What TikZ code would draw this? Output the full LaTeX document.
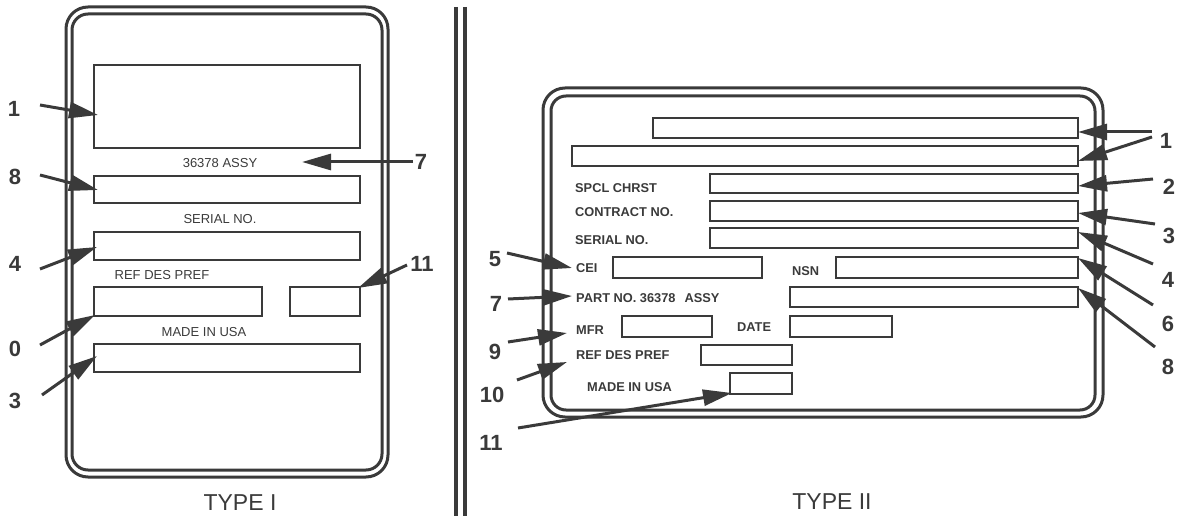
\documentclass[tikz,border=0pt]{standalone}
\usepackage{fontspec}
\setmainfont{Liberation Sans}
\usetikzlibrary{arrows.meta}
\definecolor{ink}{RGB}{58,58,58}
\tikzset{
  plate/.style={draw=ink, line width=3pt},
  field/.style={draw=ink, line width=2.5pt, inner sep=0pt, outer sep=0pt, anchor=north west},
  num/.style={font=\bfseries\fontsize{22}{22}\selectfont, text=ink, inner sep=0pt},
  smalltxt/.style={font=\fontsize{13}{13}\selectfont, text=ink, inner sep=0pt},
  boldtxt/.style={font=\bfseries\fontsize{12.8}{12.8}\selectfont, text=ink, inner sep=0pt, anchor=west},
  title/.style={font=\fontsize{23}{23}\selectfont, text=ink, inner sep=0pt},
  pointer/.style={draw=ink, line width=3pt, -{Triangle[length=29pt,width=16pt]}},
}
\begin{document}
\begin{tikzpicture}[x=1pt, y=-1pt]
\useasboundingbox (0,0) rectangle (1179,516);

% ---------- TYPE I plate ----------
\draw[plate, rounded corners=22pt] (66,7) rectangle (388,477);
\draw[plate, rounded corners=16pt] (72,14) rectangle (382,470);

\node[field, minimum width=266pt, minimum height=83pt] (f1) at (94,65) {};
\node[smalltxt] (t36378) at (220,163) {36378 ASSY};
\node[field, minimum width=266pt, minimum height=27pt] (f8) at (94,176) {};
\node[smalltxt] (tser) at (220,219) {SERIAL NO.};
\node[field, minimum width=266pt, minimum height=28pt] (f4) at (94,232) {};
\node[smalltxt] (tref) at (162,275) {REF DES PREF};
\node[field, minimum width=168pt, minimum height=29pt] (f0) at (94,287) {};
\node[field, minimum width=70pt, minimum height=29pt] (f11) at (290,287) {};
\node[smalltxt] (tmade) at (204,332) {MADE IN USA};
\node[field, minimum width=266pt, minimum height=28pt] (f3) at (94,344) {};
\node[title] (type1) at (240,503) {TYPE I};

\node[num] (L1) at (14,109) {1};
\node[num] (L8) at (15,177) {8};
\node[num] (L4) at (15,264) {4};
\node[num] (L0) at (15,349) {0};
\node[num] (L3) at (15,401) {3};
\node[num] (L7) at (421,162) {7};
\node[num] (L11) at (422,264) {11};

\coordinate (s1) at (40,105);   \coordinate (e1) at (98,115);
\coordinate (s7) at (413,162);  \coordinate (e7) at (302,162);
\coordinate (s8) at (40,175);   \coordinate (e8) at (98,190);
\coordinate (s4) at (40,269);   \coordinate (e4) at (97,247);
\coordinate (s11) at (407,265); \coordinate (e11) at (358,288);
\coordinate (s0) at (40,345);   \coordinate (e0) at (95,315);
\coordinate (s3) at (42,395);   \coordinate (e3) at (97,356);
\foreach \n in {1,7,8,4,11,0,3} \draw[pointer] (s\n) -- (e\n);

% ---------- divider ----------
\coordinate (dA) at (456,7); \coordinate (dB) at (456,516);
\coordinate (dC) at (465,7); \coordinate (dD) at (465,516);
\draw[draw=ink, line width=3.5pt] (dA) -- (dB);
\draw[draw=ink, line width=3.5pt] (dC) -- (dD);

% ---------- TYPE II plate ----------
\draw[plate, rounded corners=22pt] (543,88) rectangle (1103,417);
\draw[plate, rounded corners=15pt] (551,96) rectangle (1095,410);

\node[field, minimum width=425pt, minimum height=20pt] (g1a) at (653,118) {};
\node[field, minimum width=506pt, minimum height=20pt] (g1b) at (572,146) {};
\node[boldtxt] (tspcl) at (575,188) {SPCL CHRST};
\node[field, minimum width=368pt, minimum height=19pt] (g2) at (710,174) {};
\node[boldtxt] (tcon) at (575,212) {CONTRACT NO.};
\node[field, minimum width=368pt, minimum height=20pt] (g3) at (710,201) {};
\node[boldtxt] (tser2) at (575,240) {SERIAL NO.};
\node[field, minimum width=368pt, minimum height=20pt] (g4) at (710,228) {};
\node[boldtxt] (tcei) at (576,268) {CEI};
\node[field, minimum width=149pt, minimum height=21pt] (g5) at (613,257) {};
\node[boldtxt] (tnsn) at (792,271) {NSN};
\node[field, minimum width=242pt, minimum height=21pt] (g6) at (836,257) {};
\node[boldtxt] (tpart) at (576,298) {PART NO. 36378\hspace{9pt}ASSY};
\node[field, minimum width=288pt, minimum height=20pt] (g8) at (790,287) {};
\node[boldtxt] (tmfr) at (576,330) {MFR};
\node[field, minimum width=90pt, minimum height=21pt] (g9) at (622,316) {};
\node[boldtxt] (tdate) at (737,327) {DATE};
\node[field, minimum width=102pt, minimum height=21pt] (gd) at (790,316) {};
\node[boldtxt] (tref2) at (576,355) {REF DES PREF};
\node[field, minimum width=91pt, minimum height=20pt] (g10) at (701,345) {};
\node[boldtxt] (tmade2) at (587,387) {MADE IN USA};
\node[field, minimum width=62pt, minimum height=21pt] (g11) at (730,373) {};
\node[title] (type2) at (832,502) {TYPE II};

\node[num] (R1) at (1166,141) {1};
\node[num] (R2) at (1169,187) {2};
\node[num] (R3) at (1169,236) {3};
\node[num] (R4) at (1168,280) {4};
\node[num] (R6) at (1168,324) {6};
\node[num] (R8) at (1168,367) {8};
\node[num] (Q5) at (495,259) {5};
\node[num] (Q7) at (496,304) {7};
\node[num] (Q9) at (495,352) {9};
\node[num] (Q10) at (492,395) {10};
\node[num] (Q11) at (491,443) {11};

\coordinate (r1a) at (1152,132); \coordinate (p1a) at (1078,132);
\coordinate (r1b) at (1152,137); \coordinate (p1b) at (1078,161);
\coordinate (r2) at (1153,179);  \coordinate (p2) at (1078,186);
\coordinate (r3) at (1155,224);  \coordinate (p3) at (1078,213);
\coordinate (r4) at (1153,264);  \coordinate (p4) at (1078,232);
\coordinate (r6) at (1153,305);  \coordinate (p6) at (1078,258);
\coordinate (r8) at (1155,347);  \coordinate (p8) at (1078,288);
\coordinate (q5) at (507,253);   \coordinate (k5) at (572,268);
\coordinate (q7) at (508,299);   \coordinate (k7) at (572,296);
\coordinate (q9) at (508,342);   \coordinate (k9) at (567,333);
\coordinate (q10) at (517,380);  \coordinate (k10) at (567,362);
\coordinate (q11) at (518,428);  \coordinate (k11) at (732,393);
\foreach \n in {1a,1b,2,3,4,6,8} \draw[pointer] (r\n) -- (p\n);
\foreach \n in {5,7,9,10,11} \draw[pointer] (q\n) -- (k\n);
\end{tikzpicture}
\end{document}
